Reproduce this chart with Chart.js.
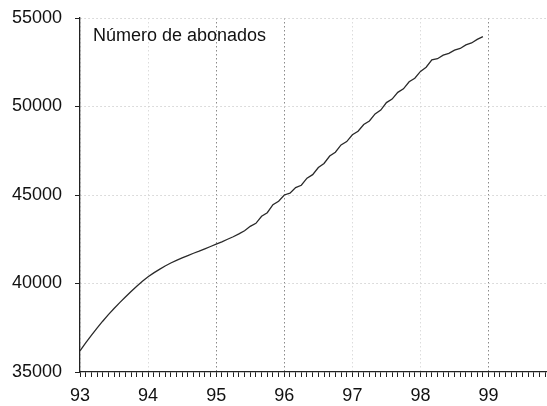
<!DOCTYPE html>
<html lang="es">
<head>
  <meta charset="UTF-8" />
  <title>Número de abonados</title>
  <script src="https://cdn.jsdelivr.net/npm/chart.js"></script>
  <style>
    html, body { margin: 0; padding: 0; background: #fff; overflow: hidden; }
    /* a bit wider than the window: the x axis runs off the right edge like the original */
    .chart-box { position: relative; width: 560px; height: 406px; }
  </style>
</head>
<body>
<div class="chart-box">
  <canvas id="subsChart"></canvas>
</div>

<script>
// Monthly subscribers, Jan 93 .. Dec 98
const firstYear = 93;
const subscribers = [
  36200, 36640, 37070, 37480, 37870, 38240, 38590, 38920, 39240, 39550, 39850, 40130,
  40380, 40600, 40800, 40990, 41160, 41310, 41450, 41580, 41710, 41830, 41960, 42090,
  42220, 42350, 42500, 42640, 42800, 42980, 43230, 43400, 43800, 44000, 44450, 44650,
  45000, 45100, 45420, 45550, 45950, 46150, 46550, 46780, 47200, 47420, 47830, 48020,
  48400, 48600, 48980, 49180, 49580, 49800, 50220, 50420, 50800, 51000, 51400, 51600,
  51980, 52220, 52630, 52700, 52900, 53000, 53180, 53280, 53480, 53590, 53790, 53950
];
const yearTicks = [93, 94, 95, 96, 97, 98, 99];
const valueTicks = [35000, 40000, 45000, 50000, 55000];
const chartTitle = "Número de abonados";

// the darker dotted verticals in the original
const strongYears = [95, 96, 99];

const points = subscribers.map((v, i) => ({ x: firstYear + i / 12, y: v }));

const isYear = v => Math.abs(v - Math.round(v)) < 1e-6;

// Title text drawn inside the plot, top left
const titlePlugin = {
  id: "innerTitle",
  afterDraw(chart) {
    const { ctx, chartArea } = chart;
    ctx.save();
    ctx.fillStyle = "#111";
    ctx.font = "18px 'Liberation Sans', Arial, sans-serif";
    ctx.textBaseline = "alphabetic";
    ctx.fillText(chartTitle, chartArea.left + 13, chartArea.top + 23);
    ctx.restore();
  }
};

new Chart(document.getElementById("subsChart").getContext("2d"), {
  type: "line",
  data: {
    datasets: [{
      data: points,
      borderColor: "#2a2a2a",
      borderWidth: 1.3,
      pointRadius: 0,
      tension: 0,
      fill: false
    }]
  },
  options: {
    responsive: true,
    maintainAspectRatio: false,
    animation: false,
    devicePixelRatio: 1,
    layout: { padding: { top: 18, left: 0, right: 0, bottom: 0 } },
    plugins: {
      legend: { display: false },
      tooltip: { enabled: false }
    },
    scales: {
      x: {
        type: "linear",
        min: 93,
        max: 99.9,
        afterBuildTicks: scale => {
          const ticks = [];
          for (let m = 0; m < 84; m++) ticks.push({ value: firstYear + m / 12 });
          scale.ticks = ticks;
        },
        afterFit: scale => { scale.height = 34; },
        ticks: {
          autoSkip: false,
          maxRotation: 0,
          padding: 9,
          color: "#111",
          font: { family: "'Liberation Sans', Arial, sans-serif", size: 18, lineHeight: 1.1 },
          callback: v => {
            const r = Math.round(v);
            return isYear(v) && yearTicks.includes(r) ? String(r) : "";
          }
        },
        grid: {
          color: ctx => {
            const v = ctx.tick && ctx.tick.value;
            if (v === undefined || !isYear(v)) return "rgba(0,0,0,0)";
            return strongYears.includes(Math.round(v)) ? "#8a8a8a" : "#dcdcdc";
          },
          lineWidth: 1,
          tickColor: "#222",
          tickLength: 5
        },
        border: { color: "#222", width: 1.3, dash: [1.5, 2.5] }
      },
      y: {
        min: 35000,
        max: 55000,
        afterBuildTicks: scale => {
          scale.ticks = valueTicks.map(v => ({ value: v }));
        },
        afterFit: scale => {
          scale.width = 80;
          scale.paddingTop = 0;
          scale.paddingBottom = 0;
        },
        ticks: {
          padding: 13,
          color: "#111",
          font: { family: "'Liberation Sans', Arial, sans-serif", size: 18, lineHeight: 1.1 },
          callback: v => String(v)
        },
        grid: {
          color: ctx => (ctx.tick && ctx.tick.value === 35000 ? "rgba(0,0,0,0)" : "#d2d2d2"),
          lineWidth: 1,
          tickColor: "#222",
          tickLength: 5
        },
        border: { color: "#222", width: 1.3, dash: [1.5, 2.5] }
      }
    }
  },
  plugins: [titlePlugin]
});
</script>
</body>
</html>
